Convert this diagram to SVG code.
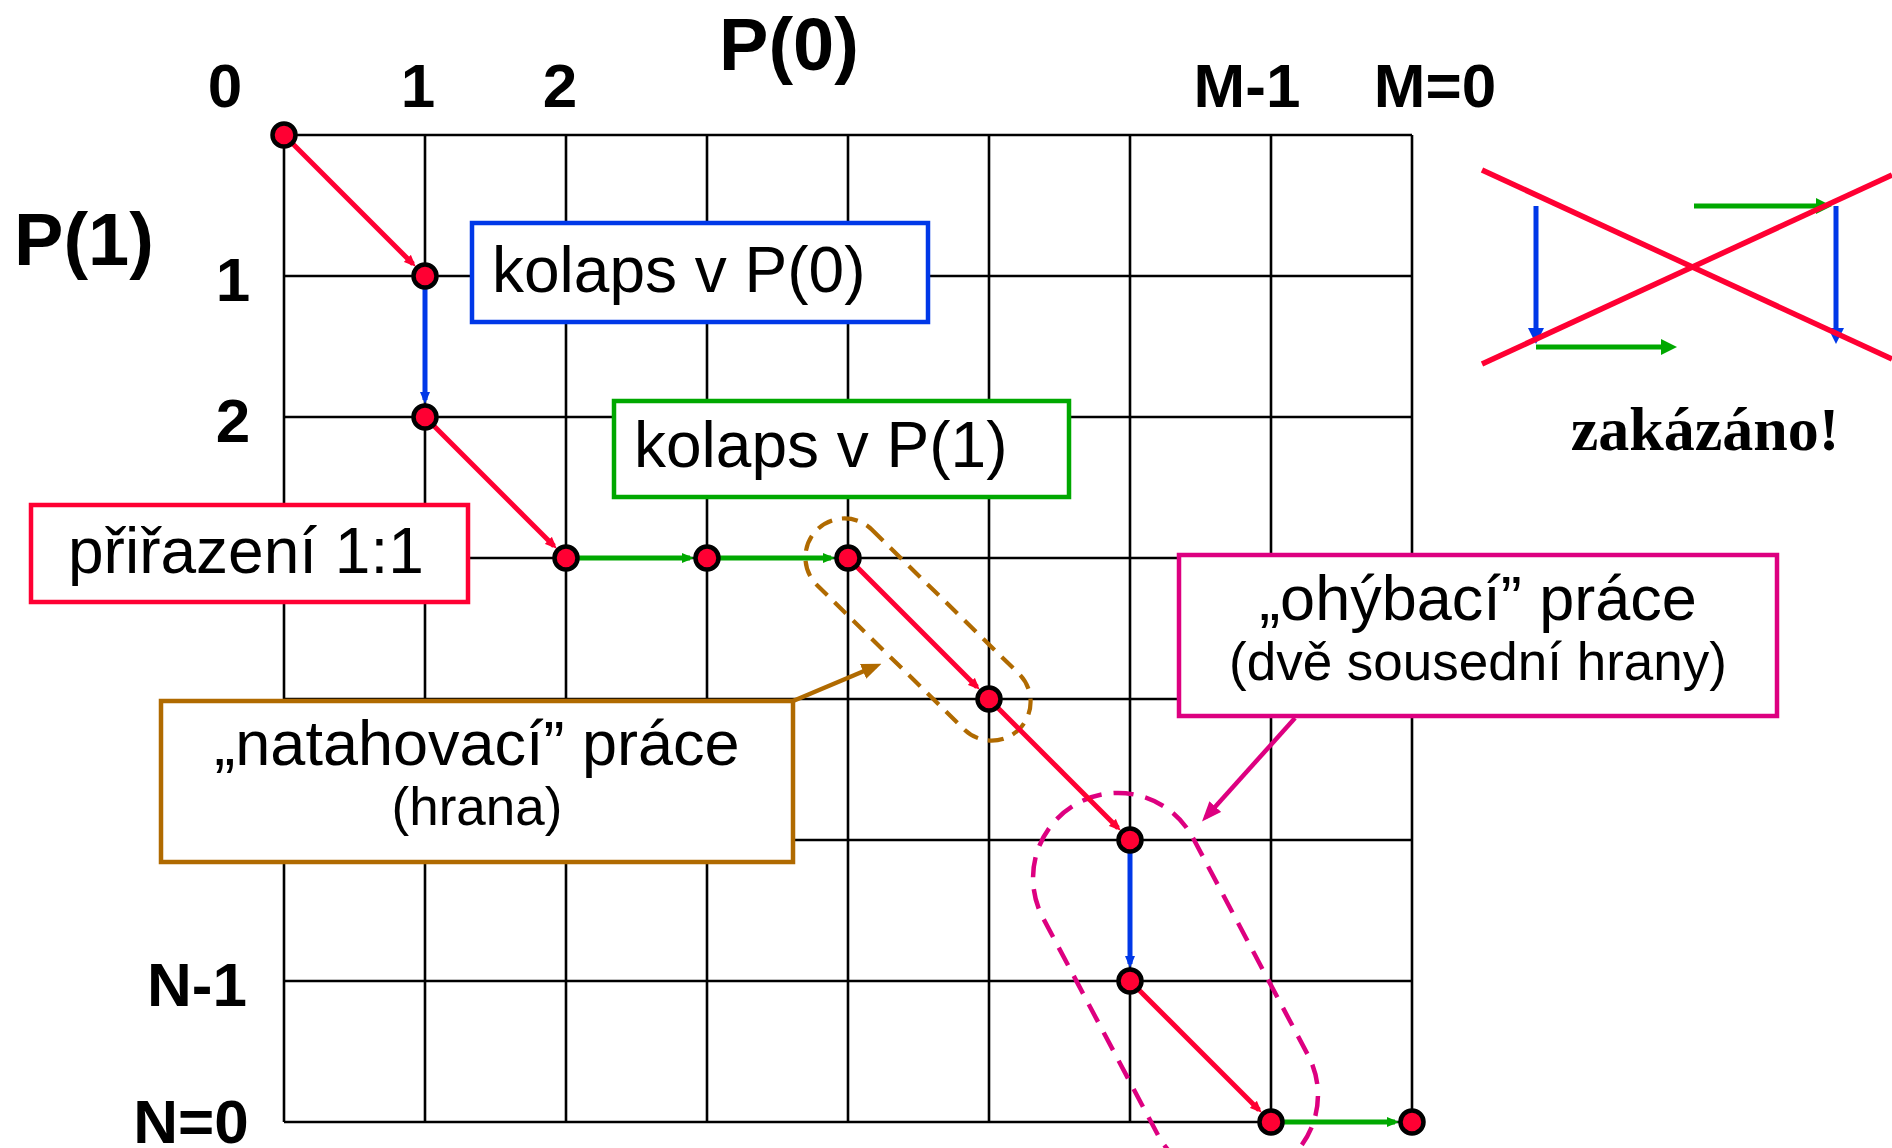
<svg xmlns="http://www.w3.org/2000/svg" width="1892" height="1148" viewBox="0 0 1892 1148">
<style>
.grid{stroke:#000;stroke-width:2.6;fill:none}
.node{fill:#FF0033;stroke:#000;stroke-width:4.5}
.lbl{font-family:"Liberation Sans",Arial,sans-serif;font-weight:bold;fill:#000}
.txt{font-family:"Liberation Sans",Arial,sans-serif;fill:#000}
.red{stroke:#FF0033;stroke-width:5;fill:none}
.blue{stroke:#0038E8;stroke-width:5;fill:none}
.green{stroke:#00A800;stroke-width:5;fill:none}
.box{fill:#fff;stroke-width:4.5}
</style>
<defs>
<marker id="ar" viewBox="0 0 12 10" refX="8" refY="5" markerWidth="12" markerHeight="10" markerUnits="userSpaceOnUse" orient="auto"><path d="M0,0 L12,5 L0,10 z" fill="#FF0033"/></marker>
<marker id="ab" viewBox="0 0 12 10" refX="8" refY="5" markerWidth="12" markerHeight="10" markerUnits="userSpaceOnUse" orient="auto"><path d="M0,0 L12,5 L0,10 z" fill="#0038E8"/></marker>
<marker id="ag" viewBox="0 0 12 10" refX="8" refY="5" markerWidth="12" markerHeight="10" markerUnits="userSpaceOnUse" orient="auto"><path d="M0,0 L12,5 L0,10 z" fill="#00A800"/></marker>
<marker id="Ab" viewBox="0 0 16 16" refX="10" refY="8" markerWidth="16" markerHeight="16" markerUnits="userSpaceOnUse" orient="auto"><path d="M0,0 L16,8 L0,16 z" fill="#0038E8"/></marker>
<marker id="Ag" viewBox="0 0 16 16" refX="10" refY="8" markerWidth="16" markerHeight="16" markerUnits="userSpaceOnUse" orient="auto"><path d="M0,0 L16,8 L0,16 z" fill="#00A800"/></marker>
<marker id="pbr" viewBox="0 0 20 16" refX="14" refY="8" markerWidth="20" markerHeight="16" markerUnits="userSpaceOnUse" orient="auto"><path d="M0,0 L20,8 L0,16 z" fill="#B06A00"/></marker>
<marker id="pmg" viewBox="0 0 20 16" refX="14" refY="8" markerWidth="20" markerHeight="16" markerUnits="userSpaceOnUse" orient="auto"><path d="M0,0 L20,8 L0,16 z" fill="#DD0080"/></marker>
</defs>
<rect width="1892" height="1148" fill="#fff"/>

<g id="grid">
<path class="grid" d="M284,135V1122M425,135V1122M566,135V1122M707,135V1122M848,135V1122M989,135V1122M1130,135V1122M1271,135V1122M1412,135V1122M284,135H1412M284,276H1412M284,417H1412M284,558H1412M284,699H1412M284,840H1412M284,981H1412M284,1122H1412"/>
</g>

<g id="axis-labels">
<text class="lbl" x="225" y="107" font-size="62" text-anchor="middle">0</text>
<text class="lbl" x="418" y="107" font-size="62" text-anchor="middle">1</text>
<text class="lbl" x="560" y="107" font-size="62" text-anchor="middle">2</text>
<text class="lbl" x="789" y="70" font-size="74" text-anchor="middle">P(0)</text>
<text class="lbl" x="1247" y="107" font-size="62" text-anchor="middle">M-1</text>
<text class="lbl" x="1435" y="107" font-size="62" text-anchor="middle">M=0</text>
<text class="lbl" x="84" y="265" font-size="74" text-anchor="middle">P(1)</text>
<text class="lbl" x="233" y="301" font-size="62" text-anchor="middle">1</text>
<text class="lbl" x="233" y="442" font-size="62" text-anchor="middle">2</text>
<text class="lbl" x="197" y="1006" font-size="62" text-anchor="middle">N-1</text>
<text class="lbl" x="191" y="1143" font-size="62" text-anchor="middle">N=0</text>
</g>

<g id="box-kolaps-p0">
<rect class="box" x="472" y="223" width="456" height="99" stroke="#0038E8"/>
<text class="txt" x="492" y="292" font-size="64">kolaps v P(0)</text>
</g>
<g id="box-kolaps-p1">
<rect class="box" x="614" y="401" width="455" height="96" stroke="#00A800"/>
<text class="txt" x="634" y="467" font-size="64">kolaps v P(1)</text>
</g>
<g id="box-prirazeni">
<rect class="box" x="31" y="505" width="437" height="97" stroke="#FF0033"/>
<text class="txt" x="68" y="573" font-size="64">přiřazení 1:1</text>
</g>
<g id="box-ohybaci">
<rect class="box" x="1179" y="555" width="598" height="161" stroke="#DD0080"/>
<text class="txt" x="1478" y="620" font-size="63" text-anchor="middle">„ohýbací” práce</text>
<text class="txt" x="1478" y="680" font-size="53" text-anchor="middle">(dvě sousední hrany)</text>
</g>
<g id="box-natahovaci">
<rect class="box" x="161" y="701" width="632" height="161" stroke="#B06A00"/>
<text class="txt" x="477" y="765" font-size="63" text-anchor="middle">„natahovací” práce</text>
<text class="txt" x="477" y="825" font-size="53" text-anchor="middle">(hrana)</text>
</g>

<g id="highlight-edge">
<rect x="-142" y="-39" width="284" height="78" rx="39" transform="translate(918 629.5) rotate(44.4)" fill="none" stroke="#B06A00" stroke-width="4.2" stroke-dasharray="16 10"/>
</g>
<g id="highlight-two-edges">
<rect x="-207.8" y="-85" width="415.6" height="170" rx="85" transform="translate(1175.5 986.5) rotate(62.1)" fill="none" stroke="#DD0080" stroke-width="4.5" stroke-dasharray="20 12"/>
</g>

<g id="connectors">
<line class="red" x1="284" y1="135" x2="413" y2="264" marker-end="url(#ar)"/>
<line class="blue" x1="425" y1="276" x2="425" y2="400" marker-end="url(#ab)"/>
<line class="red" x1="425" y1="417" x2="554" y2="546" marker-end="url(#ar)"/>
<line class="green" x1="566" y1="558" x2="690" y2="558" marker-end="url(#ag)"/>
<line class="green" x1="707" y1="558" x2="831" y2="558" marker-end="url(#ag)"/>
<line class="red" x1="848" y1="558" x2="977" y2="687" marker-end="url(#ar)"/>
<line class="red" x1="989" y1="699" x2="1118" y2="828" marker-end="url(#ar)"/>
<line class="blue" x1="1130" y1="840" x2="1130" y2="964" marker-end="url(#ab)"/>
<line class="red" x1="1130" y1="981" x2="1259" y2="1110" marker-end="url(#ar)"/>
<line class="green" x1="1271" y1="1122" x2="1395" y2="1122" marker-end="url(#ag)"/>
<line x1="793" y1="701" x2="876" y2="666" stroke="#B06A00" stroke-width="4.5" marker-end="url(#pbr)"/>
<line x1="1295" y1="718" x2="1206" y2="817" stroke="#DD0080" stroke-width="4.5" marker-end="url(#pmg)"/>
</g>

<g id="nodes">
<g id="n0-0"><circle class="node" cx="284" cy="135" r="11.5"/></g>
<g id="n1-1"><circle class="node" cx="425" cy="276" r="11.5"/></g>
<g id="n1-2"><circle class="node" cx="425" cy="417" r="11.5"/></g>
<g id="n2-3"><circle class="node" cx="566" cy="558" r="11.5"/></g>
<g id="n3-3"><circle class="node" cx="707" cy="558" r="11.5"/></g>
<g id="n4-3"><circle class="node" cx="848" cy="558" r="11.5"/></g>
<g id="n5-4"><circle class="node" cx="989" cy="699" r="11.5"/></g>
<g id="n6-5"><circle class="node" cx="1130" cy="840" r="11.5"/></g>
<g id="n6-6"><circle class="node" cx="1130" cy="981" r="11.5"/></g>
<g id="n7-7"><circle class="node" cx="1271" cy="1122" r="11.5"/></g>
<g id="n8-7"><circle class="node" cx="1412" cy="1122" r="11.5"/></g>
</g>

<g id="forbidden">
<line x1="1536" y1="206" x2="1536" y2="338" stroke="#0038E8" stroke-width="5" marker-end="url(#Ab)"/>
<line x1="1536" y1="347" x2="1671" y2="347" stroke="#00A800" stroke-width="5" marker-end="url(#Ag)"/>
<line x1="1694" y1="206" x2="1826" y2="206" stroke="#00A800" stroke-width="5" marker-end="url(#Ag)"/>
<line x1="1836" y1="206" x2="1836" y2="338" stroke="#0038E8" stroke-width="5" marker-end="url(#Ab)"/>
<line x1="1482" y1="170" x2="1892" y2="359" stroke="#FF0033" stroke-width="5.5"/>
<line x1="1482" y1="364" x2="1892" y2="175" stroke="#FF0033" stroke-width="5.5"/>
<text x="1705" y="450" font-family="'Liberation Serif','Times New Roman',serif" font-weight="bold" font-size="62" text-anchor="middle">zakázáno!</text>
</g>
</svg>
